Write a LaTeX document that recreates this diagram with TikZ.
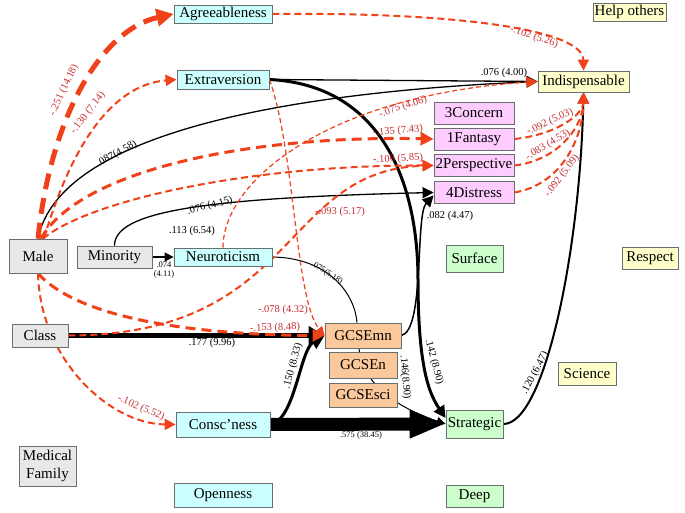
\documentclass[tikz,border=0pt]{standalone}
\usepackage{fontspec}
\setmainfont{Liberation Serif}
\usetikzlibrary{arrows.meta,calc}
\definecolor{cyanF}{RGB}{204,255,255}
\definecolor{grayF}{RGB}{232,232,232}
\definecolor{pinkF}{RGB}{255,204,255}
\definecolor{orangeF}{RGB}{250,200,155}
\definecolor{yellowF}{RGB}{255,255,204}
\definecolor{greenF}{RGB}{204,255,204}
\definecolor{boxLine}{RGB}{105,110,110}
\definecolor{redLine}{RGB}{240,65,25}
\definecolor{redText}{RGB}{200,45,50}
\pgfdeclarelayer{bg}
\pgfdeclarelayer{edges}
\pgfsetlayers{bg,edges,main}
\tikzset{
  box/.style={draw=boxLine, line width=0.8pt, inner sep=0pt, font=\fontsize{15}{17}\selectfont, align=center},
  cyanbox/.style={box, fill=cyanF},
  graybox/.style={box, fill=grayF},
  pinkbox/.style={box, fill=pinkF, minimum width=80pt, minimum height=22pt},
  orangebox/.style={box, fill=orangeF},
  yellowbox/.style={box, fill=yellowF},
  greenbox/.style={box, fill=greenF},
  rd/.style={draw=redLine, line width=2pt, dash pattern=on 7pt off 4pt},
  rdthin/.style={draw=redLine, line width=1.2pt, dash pattern=on 5pt off 3pt},
  bk/.style={draw=black, line width=1.3pt},
  rtip/.style={-{Triangle[length=11pt,width=11pt]}},
  btip/.style={-{Triangle[length=11pt,width=11pt]}},
  lbl/.style={font=\fontsize{10.5}{12}\selectfont, inner sep=0pt},
  slbl/.style={font=\fontsize{8.5}{9.5}\selectfont, inner sep=0pt, align=center},
  rlbl/.style={lbl, text=redText}
}
\begin{document}
\begin{tikzpicture}[x=1pt,y=-1pt]
\useasboundingbox (0,0) rectangle (685,513);
\begin{pgfonlayer}{bg}
\fill[white] (0,0) rectangle (685,513);
\end{pgfonlayer}
% nodes
\node[cyanbox, minimum width=98pt, minimum height=18pt] (agree) at (223,14) {Agreeableness};
\node[cyanbox, minimum width=92pt, minimum height=19pt] (extra) at (223,79.5) {Extraversion};
\node[cyanbox, minimum width=98pt, minimum height=18pt] (neuro) at (223,257) {Neuroticism};
\node[cyanbox, minimum width=94pt, minimum height=25pt] (consc) at (223,424.5) {Consc’ness};
\node[cyanbox, minimum width=98pt, minimum height=24pt] (open) at (223,495) {Openness};
\node[yellowbox, minimum width=73pt, minimum height=18pt] (help) at (629.5,12) {Help others};
\node[yellowbox, minimum width=91pt, minimum height=21pt] (indisp) at (583.5,81.5) {Indispensable};
\node[yellowbox, minimum width=56pt, minimum height=22pt] (respect) at (650,258) {Respect};
\node[yellowbox, minimum width=58pt, minimum height=23pt] (science) at (587,373.5) {Science};
\node[pinkbox] (concern) at (474,113) {3Concern};
\node[pinkbox] (fantasy) at (474,139) {1Fantasy};
\node[pinkbox] (persp) at (474,165.5) {2Perspective};
\node[pinkbox] (distress) at (474,192.5) {4Distress};
\node[graybox, minimum width=58pt, minimum height=34pt] (male) at (38,256) {Male};
\node[graybox, minimum width=75pt, minimum height=22pt] (minority) at (114.5,257) {Minority};
\node[graybox, minimum width=56pt, minimum height=23pt] (class) at (40,335.5) {Class};
\node[graybox, minimum width=57pt, minimum height=40pt, font=\fontsize{15}{17.5}\selectfont] (medfam) at (47.5,466) {Medical\\Family};
\node[orangebox, minimum width=76pt, minimum height=25pt] (gmn) at (363,335.5) {GCSEmn};
\node[orangebox, minimum width=68pt, minimum height=26pt] (gen) at (363,365) {GCSEn};
\node[orangebox, minimum width=68pt, minimum height=24pt] (gsci) at (363,395) {GCSEsci};
\node[greenbox, minimum width=57pt, minimum height=27pt] (surface) at (474.5,258.5) {Surface};
\node[greenbox, minimum width=57pt, minimum height=28pt] (strat) at (474.5,424) {Strategic};
\node[greenbox, minimum width=57pt, minimum height=22pt] (deep) at (474.5,496) {Deep};

\begin{pgfonlayer}{edges}
% black connectors
\draw[bk, btip] (extra.east) -- (indisp.west);
\draw[bk, btip] (male.north) .. controls (60,130) and (300,92) .. (indisp.west);
\draw[bk, btip] (minority.north) .. controls (114.5,212) and (200,198) .. (distress.west);
\draw[bk, -{Triangle[length=9pt,width=9pt]}] (minority.east) -- (neuro.west);
\draw[draw=black, line width=1pt] (neuro.east) .. controls (330,258) and (355,295) .. ($(gmn.north)+(-6,0)$);
\draw[draw=black, line width=1pt, -{Triangle[length=9pt,width=8pt]}] ($(gmn.south)+(-4,0)$) .. controls (362,380) and (390,405) .. (strat.west);
\draw[bk, line width=1.5pt, btip] (gmn.east) .. controls (425,330) and (415,215) .. ($(distress.west)+(0,3)$);
\draw[bk, line width=3pt, -{Triangle[length=12pt,width=12pt]}] (extra.east) .. controls (380,85) and (418,180) .. (418,280) .. controls (418,370) and (430,395) .. ($(strat.west)+(0,-6)$);
\draw[bk, line width=2pt, btip] (strat.east) .. controls (545,424) and (580,250) .. (indisp.south);
\draw[bk, line width=5pt, -{Triangle[length=16pt,width=18pt]}] (class.east) -- (gmn.west);
\draw[bk, line width=3pt, -{Triangle[length=14pt,width=14pt]}] (consc.east) .. controls (295,420) and (300,350) .. (gmn.west);
\draw[bk, line width=13pt, -{Triangle[length=36pt,width=26pt]}] (consc.east) -- (strat.west);
% red dashed connectors
\draw[rd, line width=5pt, dash pattern=on 16pt off 9pt, -{Triangle[length=17pt,width=17pt]}] (male.north) .. controls (50,120) and (100,30) .. (agree.west);
\draw[rd, rtip] ($(male.north)+(6,0)$) .. controls (70,150) and (110,85) .. (extra.west);
\draw[rd, line width=3pt, dash pattern=on 10pt off 6pt, -{Triangle[length=13pt,width=13pt]}] ($(male.north)+(3,0)$) .. controls (80,170) and (250,135) .. (fantasy.west);
\draw[rd, rtip] ($(male.north)+(5,0)$) .. controls (90,200) and (250,165) .. (persp.west);
\draw[rd, rtip] (class.east) .. controls (300,335) and (280,170) .. (persp.west);
\draw[rdthin, rtip] (neuro.north) .. controls (223,180) and (330,95) .. (indisp.west);
\draw[rd, rtip] (agree.east) .. controls (460,12) and (583,30) .. (indisp.north);
\draw[rd, rtip] (fantasy.east) .. controls (555,135) and (583,115) .. (indisp.south);
\draw[rd, rtip] (persp.east) .. controls (560,160) and (583,125) .. (indisp.south);
\draw[rd, rtip] (distress.east) .. controls (560,185) and (583,140) .. (indisp.south);
\draw[rd, line width=3pt, dash pattern=on 10pt off 6pt, -{Triangle[length=12pt,width=12pt]}] (male.south) .. controls (80,320) and (200,335) .. (gmn.west);
\draw[rd, rtip] (male.south) .. controls (40,360) and (110,424) .. (consc.west);
\draw[rdthin, -{Triangle[length=9pt,width=8pt]}] (extra.east) .. controls (295,150) and (295,300) .. (gmn.west);
\end{pgfonlayer}

% labels
\node[rlbl, rotate=65] (l1) at (64,90) {-.251 (14.18)};
\node[rlbl, rotate=52] (l2) at (88,113) {-.130 (7.14)};
\node[rlbl, rotate=-18] (l3) at (534,37) {-.102 (5.26)};
\node[lbl] (l4) at (504,73) {.076 (4.00)};
\node[rlbl, rotate=18] (l5) at (403,107) {-.075 (4.06)};
\node[rlbl, rotate=5] (l6) at (398,131) {-.135 (7.43)};
\node[rlbl, rotate=3] (l7) at (398,159) {-.106 (5.85)};
\node[rlbl, rotate=25] (l8) at (550,122) {-.092 (5.03)};
\node[rlbl, rotate=31] (l9) at (548,145) {-.083 (4.53)};
\node[rlbl, rotate=52] (l10) at (562,176) {-.092 (5.09)};
\node[lbl, rotate=29] (l11) at (117,154) {.087(4.58)};
\node[lbl, rotate=14] (l12) at (210,206) {.076 (4.15)};
\node[lbl] (l13) at (192,231) {.113 (6.54)};
\node[slbl] (l14) at (164,270) {.074\\(4.11)};
\node[slbl, rotate=-33] (l15) at (327,273) {.075(5.18)};
\node[rlbl] (l16) at (340,212) {-.093 (5.17)};
\node[lbl] (l17) at (450,216) {.082 (4.47)};
\node[rlbl] (l18) at (283,310) {-.078 (4.32)};
\node[rlbl, rotate=2] (l19) at (275,328) {-.153 (8.48)};
\node[lbl] (l20) at (212,343) {.177 (9.96)};
\node[lbl, rotate=75] (l21) at (293,366) {.150 (8.33)};
\node[lbl, rotate=-85] (l22) at (405,377) {.146(8.90)};
\node[lbl, rotate=-75] (l23) at (434,362) {.142 (8.90)};
\node[lbl, rotate=62] (l24) at (535,373) {.120 (6.47)};
\node[rlbl, rotate=-23] (l25) at (141,408) {-.102 (5.52)};
\node[slbl] (l26) at (361,435) {.575 (38.45)};
\end{tikzpicture}
\end{document}
